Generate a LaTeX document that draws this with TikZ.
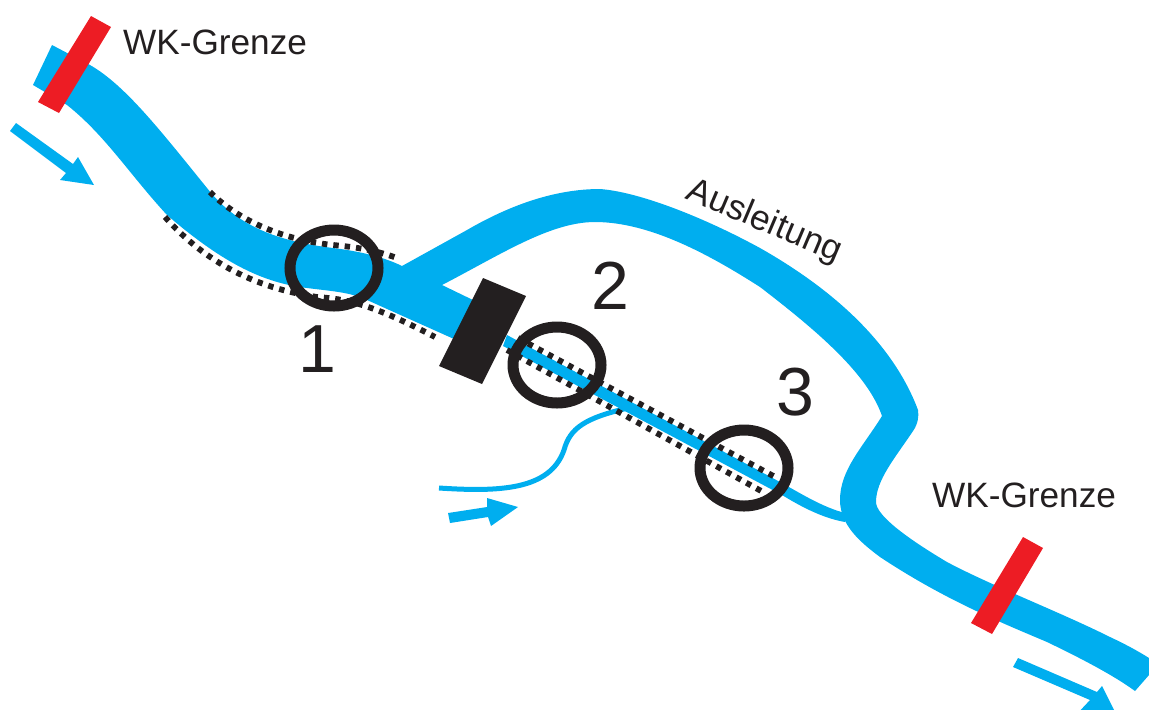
\documentclass[tikz,border=0pt]{standalone}
\usepackage{fontspec}
\setmainfont{Liberation Sans}
\definecolor{river}{HTML}{00AEEF}
\definecolor{bar}{HTML}{ED1C24}
\definecolor{ink}{HTML}{231F20}
\tikzset{
  wk/.style={font=\fontsize{17.6}{20}\selectfont,text=ink,inner sep=0pt},
  num/.style={font=\fontsize{34}{38}\selectfont,text=ink,inner sep=0pt},
  dots/.style={draw=ink,line width=2.9pt,dash pattern=on 2.7pt off 3.0pt},
  ring/.style={draw=ink,line width=5.5pt},
}
\begin{document}
\begin{tikzpicture}[x=0.5pt,y=-0.5pt]
\useasboundingbox (0,0) rectangle (1149,709);
\clip (0,0) rectangle (1149,709);
% main river with the diversion
\fill[river]
  (52,45) -- (90,65)
  .. controls (125,85) and (160,130) .. (207,188)
  .. controls (240,230) and (285,242) .. (333,248)
  .. controls (350,250) and (380,255) .. (402,266)
  -- (467,230)
  .. controls (510,205) and (555,189) .. (600,189)
  .. controls (640,192) and (705,218) .. (760,248)
  .. controls (820,282) and (890,335) .. (918,410)
  .. controls (919,416) and (918,424) .. (913,431)
  .. controls (895,458) and (876,480) .. (876,502)
  .. controls (876,515) and (905,537) .. (947,562)
  .. controls (990,585) and (1060,612) .. (1110,637)
  .. controls (1125,644) and (1138,651) .. (1149,658)
  -- (1149,675) -- (1135,691)
  .. controls (1120,680) and (1095,665) .. (1047,642)
  .. controls (1000,622) and (945,600) .. (880,557)
  .. controls (860,542) and (840,525) .. (840,500)
  .. controls (840,470) and (862,448) .. (882,416)
  .. controls (868,375) and (820,333) .. (760,287)
  .. controls (710,255) and (650,222) .. (595,222)
  .. controls (550,222) and (500,255) .. (442,285)
  -- (473,300) -- (454,339) -- (367,300)
  .. controls (350,292) and (330,291) .. (307,288)
  .. controls (265,283) and (225,265) .. (167,215)
  .. controls (130,175) and (105,135) .. (67,105)
  -- (33,85) -- cycle;
% residual flow
\fill[river] (507,335) -- (780,482) .. controls (800,493) and (822,507) .. (845,513) -- (845,522)
  .. controls (822,518) and (800,506) .. (782,495) -- (503,346) -- cycle;
% tributary
\draw[river,line width=2.5pt] (439,488) .. controls (500,492) and (550,490) .. (564,450) .. controls (570,428) and (585,418) .. (628,408);
% dotted banks
\draw[dots] (210,192) .. controls (240,222) and (285,240) .. (333,245) .. controls (355,247) and (375,250) .. (397,258);
\draw[dots] (165,217) .. controls (205,262) and (255,288) .. (317,297) .. controls (345,299) and (370,303) .. (435,337);
\draw[dots] (518,338) -- (777,478);
\draw[dots] (507,350) -- (763,492);
% weir
\fill[ink] (483,278) -- (526,296) -- (482,384) -- (439,366) -- cycle;
% rings
\draw[ring] (334,268) ellipse [x radius=44,y radius=38];
\draw[ring] (557,365) ellipse [x radius=44,y radius=38];
\draw[ring] (744,468) ellipse [x radius=44,y radius=38];
% boundaries
\fill[bar] (91,16) -- (111,27) -- (59,113) -- (38,102) -- cycle;
\fill[bar] (1023,537) -- (1043,548) -- (992,634) -- (971,623) -- cycle;
% flow arrows
\fill[river] (16,123) -- (73,164) -- (78,157) -- (94,185) -- (60,180) -- (66,173) -- (10,131) -- cycle;
\fill[river] (448,513) -- (487,507) -- (487,498) -- (518,507) -- (491,526) -- (488,517) -- (450,523) -- cycle;
\fill[river] (1018,658) -- (1097,692) -- (1102,686) -- (1120,722) -- (1075,716) -- (1090,700) -- (1013,667) -- cycle;
% labels
\node[wk] (wka) at (215,42) {WK-Grenze};
\node[wk] (wkb) at (1024,495) {WK-Grenze};
\node[wk,rotate=-23] (aus) at (764,222) {Ausleitung};
\node[num] (n1) at (317,349) {1};
\node[num] (n2) at (610,286) {2};
\node[num] (n3) at (795,392) {3};
\end{tikzpicture}
\end{document}
